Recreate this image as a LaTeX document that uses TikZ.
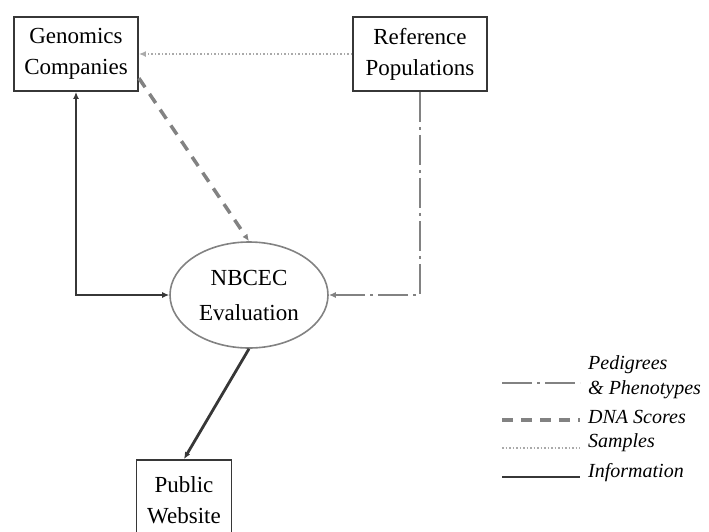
\documentclass[tikz,border=0pt]{standalone}
\usepackage{fontspec}
\setmainfont{Liberation Serif}
\usetikzlibrary{shapes.geometric,arrows.meta}

\definecolor{linegray}{RGB}{130,130,130}
\definecolor{boxgray}{RGB}{55,55,55}
\definecolor{dotgray}{RGB}{170,170,170}

\tikzset{
  boxnode/.style={draw=boxgray,line width=1.8pt,align=center,inner sep=0pt,
    font=\fontsize{23}{31}\selectfont},
  legtext/.style={anchor=west,align=left,inner sep=0pt,
    font=\fontsize{20}{25}\selectfont\itshape},
  tip/.style={-{Latex[length=7pt,width=6pt]}},
  pedline/.style={draw=linegray,line width=1.8pt,dash pattern=on 30pt off 5pt on 3pt off 5pt},
  dnaline/.style={draw=linegray,line width=3.5pt,dash pattern=on 11pt off 8pt},
  sampline/.style={draw=dotgray,line width=1.4pt,dash pattern=on 1.5pt off 2pt},
  infoline/.style={draw=boxgray,line width=2.8pt}
}

\begin{document}
\begin{tikzpicture}[x=1pt,y=-1pt]
		\useasboundingbox (0,0) rectangle (709,531);

		\node[boxnode,minimum width=124,minimum height=74] (gen) at (76, 54) {Genomics\\Companies};
		\node[boxnode,minimum width=134,minimum height=74] (ref) at (420, 54) {Reference\\Populations};
		\node[draw=linegray,line width=1.6pt,ellipse,minimum width=158,minimum height=106,inner sep=0pt,
			align=center,font=\fontsize{23}{35}\selectfont] (eval) at (249, 295) {NBCEC\\Evaluation};
		\node[boxnode,minimum width=95,minimum height=80] (pub) at (184, 500) {Public\\Website};

		% legend
		\coordinate (l1a) at (502, 383);
		\coordinate (l1b) at (580, 383);
		\coordinate (l2a) at (502, 420);
		\coordinate (l2b) at (580, 420);
		\coordinate (l3a) at (502, 448);
		\coordinate (l3b) at (580, 448);
		\coordinate (l4a) at (502, 477);
		\coordinate (l4b) at (580, 477);

		\node[legtext] (t1) at (588, 377) {Pedigrees\\\& Phenotypes};
		\node[legtext] (t2) at (588, 417) {DNA Scores};
		\node[legtext] (t3) at (588, 443) {Samples};
		\node[legtext] (t4) at (588, 473) {Information};

		\draw[pedline] (l1a) -- (l1b);
		\draw[dnaline] (l2a) -- (l2b);
		\draw[sampline] (l3a) -- (l3b);
		\draw[infoline] (l4a) -- (l4b);

		% connectors
		\draw[sampline,tip] (ref.west) -- (gen.east);
		\draw[dnaline,tip] (gen.-21) -- (eval.north);
		\draw[infoline,{Latex[length=7pt,width=6pt]}-{Latex[length=7pt,width=6pt]}] (gen.south) |- (eval.west);
		\draw[pedline,tip] (ref.south) |- (eval.east);
		\draw[infoline,tip] (eval.south) -- (pub.north);
	\end{tikzpicture}
\end{document}
